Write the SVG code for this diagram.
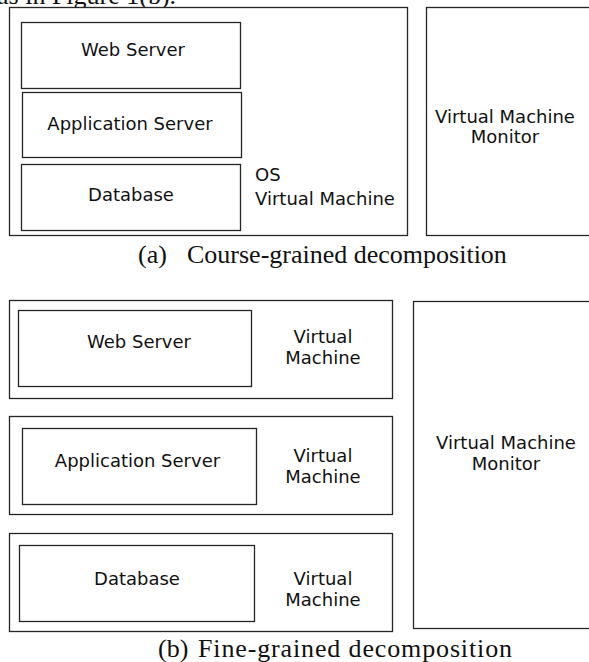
<svg xmlns="http://www.w3.org/2000/svg" width="589" height="662" viewBox="0 0 589 662">
  <style>
    .box { fill: #fff; stroke: #262626; stroke-width: 1.3; }
    .lbl { font-family: "DejaVu Sans", Verdana, sans-serif; font-size: 18px; fill: #111; }
    .mid { text-anchor: middle; }
    .cap { font-family: "Liberation Serif", "Times New Roman", serif; font-size: 26px; fill: #111; }
  </style>
  <rect width="589" height="662" fill="#fff"/>

  <!-- running text above the figure -->
  <text class="cap" x="-3" y="4">as in Figure 1(b).</text>

  <!-- (a) coarse-grained layout -->
  <g id="os-vm">
    <rect class="box" x="9.5" y="7.5" width="398" height="228"/>
    <text class="lbl" x="255" y="181">OS</text>
    <text class="lbl" x="255" y="205">Virtual Machine</text>
  </g>
  <g id="web-server-a">
    <rect class="box" x="21.5" y="22.5" width="219" height="66"/>
    <text class="lbl mid" x="133" y="56">Web Server</text>
  </g>
  <g id="app-server-a">
    <rect class="box" x="22.5" y="92.5" width="219" height="65"/>
    <text class="lbl mid" x="130" y="129.5">Application Server</text>
  </g>
  <g id="database-a">
    <rect class="box" x="21.5" y="164.5" width="219" height="66"/>
    <text class="lbl mid" x="131" y="200.5">Database</text>
  </g>
  <g id="vmm-a">
    <rect class="box" x="426.5" y="7.5" width="170" height="228"/>
    <text class="lbl mid" x="505" y="123">Virtual Machine</text>
    <text class="lbl mid" x="505" y="143">Monitor</text>
  </g>
  <text class="cap" x="138" y="263">(a)</text>
  <text class="cap" x="187" y="263">Course-grained decomposition</text>

  <!-- (b) fine-grained layout -->
  <g id="vm-web">
    <rect class="box" x="9.5" y="300.5" width="383" height="98"/>
    <text class="lbl mid" x="323" y="343">Virtual</text>
    <text class="lbl mid" x="323" y="364">Machine</text>
  </g>
  <g id="web-server-b">
    <rect class="box" x="18.5" y="310.5" width="233" height="76"/>
    <text class="lbl mid" x="139" y="348">Web Server</text>
  </g>
  <g id="vm-app">
    <rect class="box" x="9.5" y="416.5" width="383" height="98"/>
    <text class="lbl mid" x="323" y="462">Virtual</text>
    <text class="lbl mid" x="323" y="483">Machine</text>
  </g>
  <g id="app-server-b">
    <rect class="box" x="22.5" y="428.5" width="234" height="76"/>
    <text class="lbl mid" x="137.5" y="467">Application Server</text>
  </g>
  <g id="vm-db">
    <rect class="box" x="9.5" y="533.5" width="383" height="98"/>
    <text class="lbl mid" x="323" y="584.5">Virtual</text>
    <text class="lbl mid" x="323" y="605.5">Machine</text>
  </g>
  <g id="database-b">
    <rect class="box" x="19.5" y="545.5" width="235" height="76"/>
    <text class="lbl mid" x="137" y="584.5">Database</text>
  </g>
  <g id="vmm-b">
    <rect class="box" x="413.5" y="301.5" width="185" height="327"/>
    <text class="lbl mid" x="506" y="449">Virtual Machine</text>
    <text class="lbl mid" x="506" y="470">Monitor</text>
  </g>
  <text class="cap" x="158" y="657">(b)</text>
  <text class="cap" x="198" y="657" textLength="314">Fine-grained decomposition</text>

  <!-- no connectors in this figure -->
  <g id="connectors"/>
</svg>
